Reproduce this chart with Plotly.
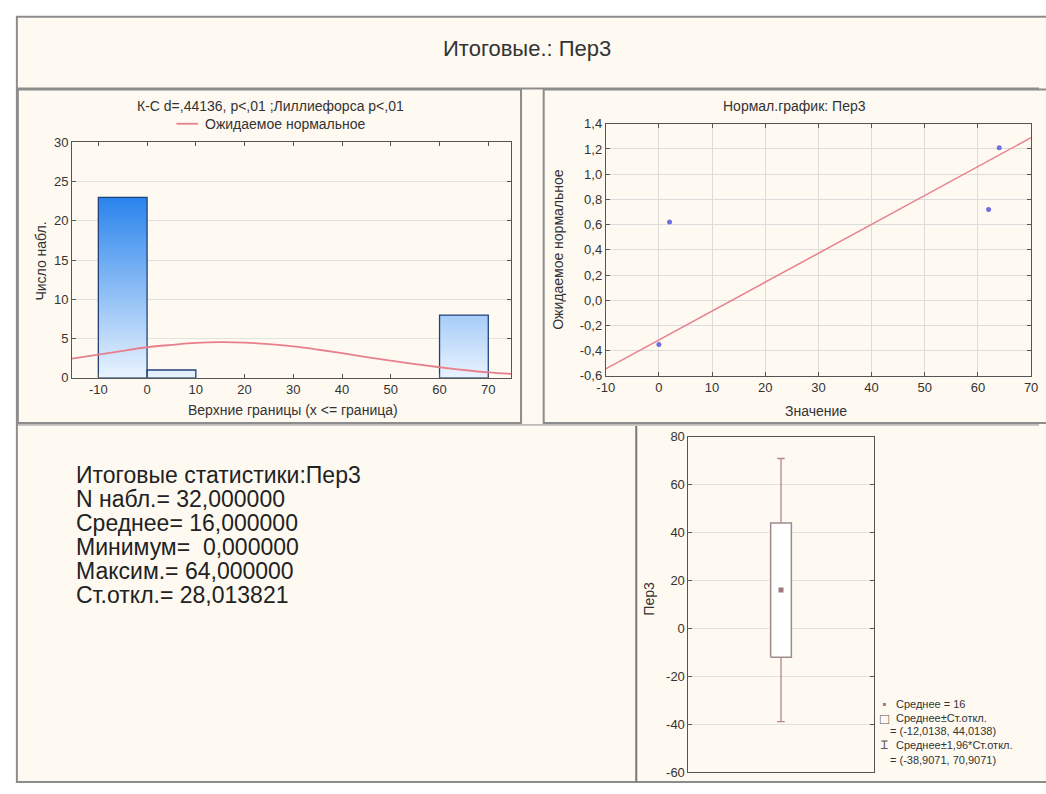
import plotly.graph_objects as go

W, H = 1046, 794


def px(x):
    return x / W


def py(y):
    return 1 - y / H


# ---------------- data ----------------
main_title = "Итоговые.: Пер3"

# histogram (upper bin bounds, counts)
bin_upper = [0, 10, 20, 30, 40, 50, 60, 70]
bin_counts = [23, 1, 0, 0, 0, 0, 0, 8]
bin_width = 10
hist_xticks = [-10, 0, 10, 20, 30, 40, 50, 60, 70]
hist_yticks = [0, 5, 10, 15, 20, 25, 30]
hist_header = "К-С d=,44136, p<,01 ;Лиллиефорса p<,01"
hist_legend = "Ожидаемое нормальное"
hist_xtitle = "Верхние границы (x <= граница)"
hist_ytitle = "Число набл."

# expected normal curve
normal_x = [-15.4, -10, -5, 0, 5, 10, 15, 20, 25, 30, 35, 40, 45, 50, 55, 60, 65, 70, 74.7]
normal_y = [2.45, 2.95, 3.45, 3.9, 4.2, 4.45, 4.55, 4.5, 4.3, 4.0, 3.6, 3.15, 2.65, 2.2,
            1.75, 1.35, 1.0, 0.7, 0.5]

# normal probability plot
qq_title = "Нормал.график: Пер3"
qq_values = [0, 2, 62, 64]
qq_expected = [-0.35, 0.62, 0.72, 1.21]
qq_line_x = [-10, 70]
qq_line_y = [-0.545, 1.29]
qq_xtitle = "Значение"
qq_ytitle = "Ожидаемое нормальное"
qq_xticks = [-10, 0, 10, 20, 30, 40, 50, 60, 70]
qq_yticks = [-0.6, -0.4, -0.2, 0.0, 0.2, 0.4, 0.6, 0.8, 1.0, 1.2, 1.4]

# summary statistics text
stats_lines = [
    "Итоговые статистики:Пер3",
    "N набл.= 32,000000",
    "Среднее= 16,000000",
    "Минимум=  0,000000",
    "Максим.= 64,000000",
    "Ст.откл.= 28,013821",
]

# box plot
box_name = "Пер3"
box_mean = 16
box_sd = [-12.0138, 44.0138]
box_196 = [-38.9071, 70.9071]
box_yticks = [-60, -40, -20, 0, 20, 40, 60, 80]
box_legend = [
    ("▪", "Среднее = 16"),
    ("□", "Среднее±Ст.откл."),
    ("", "= (-12,0138, 44,0138)"),
    ("Ɪ", "Среднее±1,96*Ст.откл."),
    ("", "= (-38,9071, 70,9071)"),
]

# ---------------- style ----------------
CREAM = "#FEFAF2"
BORDER = "#8C8C8C"
TXT = "#333333"
FONT = "Liberation Sans, Arial, DejaVu Sans"
RED = "#E8808C"
BOXC = "#A08A8E"
LBL = 14
TICK = 13


def int_text(vals):
    return [str(v) for v in vals]


def dec_text(vals):
    return [f"{v:.1f}".replace(".", ",") for v in vals]


fig = go.Figure()

# histogram bars as gradient-filled polygons built from the bins
hx, hy = [], []
for u, c in zip(bin_upper, bin_counts):
    if c <= 0:
        continue
    lo = u - bin_width
    hx += [lo, lo, u, u, lo, None]
    hy += [0, c, c, 0, 0, None]
fig.add_trace(go.Scatter(
    x=hx, y=hy, mode="lines", fill="toself",
    fillgradient=dict(type="vertical", start=0, stop=max(bin_counts),
                      colorscale=[[0, "#EEF6FF"], [1, "#2A84EC"]]),
    line=dict(color="#23407A", width=1.3),
    xaxis="x", yaxis="y", showlegend=False, hoverinfo="skip"))
fig.add_trace(go.Scatter(
    x=normal_x, y=normal_y, mode="lines", line=dict(color=RED, width=1.8, shape="spline"),
    xaxis="x", yaxis="y", showlegend=False))

# normal probability plot
fig.add_trace(go.Scatter(
    x=qq_line_x, y=qq_line_y, mode="lines", line=dict(color=RED, width=1.5),
    xaxis="x2", yaxis="y2", showlegend=False))
fig.add_trace(go.Scatter(
    x=qq_values, y=qq_expected, mode="markers",
    marker=dict(color="#7070E0", size=5, symbol="circle"),
    xaxis="x2", yaxis="y2", showlegend=False))

# box plot (mean, mean±sd box, mean±1.96sd whiskers)
bc, bw, cw = 0.5, 0.056, 0.02
fig.add_trace(go.Scatter(
    x=[bc, bc, None, bc - cw, bc + cw, None, bc, bc, None, bc - cw, bc + cw],
    y=[box_sd[1], box_196[1], None, box_196[1], box_196[1], None,
       box_sd[0], box_196[0], None, box_196[0], box_196[0]],
    mode="lines", line=dict(color="#B8828E", width=1.3),
    xaxis="x3", yaxis="y3", showlegend=False))
fig.add_trace(go.Scatter(
    x=[bc - bw, bc + bw, bc + bw, bc - bw, bc - bw],
    y=[box_sd[0], box_sd[0], box_sd[1], box_sd[1], box_sd[0]],
    mode="lines", fill="toself", fillcolor="#FFFFFF",
    line=dict(color=BOXC, width=1.5),
    xaxis="x3", yaxis="y3", showlegend=False))
fig.add_trace(go.Scatter(
    x=[bc], y=[box_mean], mode="markers",
    marker=dict(color="#A07880", size=5, symbol="square"),
    xaxis="x3", yaxis="y3", showlegend=False))

axis_common = dict(showline=True, linecolor="#555555", linewidth=1, mirror="ticks",
                   ticks="inside", ticklen=4, tickcolor="#555555",
                   tickfont=dict(family=FONT, size=TICK, color=TXT), zeroline=False)

fig.update_layout(
    width=W, height=H, margin=dict(l=0, r=0, t=0, b=0),
    paper_bgcolor="#FFFFFF", plot_bgcolor="#FFFFFF",
    font=dict(family=FONT, color=TXT),
    xaxis=dict(domain=[px(64), px(510)], range=[-15.4, 74.7], tickvals=hist_xticks,
               ticktext=int_text(hist_xticks), showgrid=False, anchor="y", **axis_common),
    yaxis=dict(domain=[py(378), py(138)], range=[0, 30], tickvals=hist_yticks,
               ticktext=int_text(hist_yticks), showgrid=True,
               gridcolor="#E2E2E2", anchor="x", **axis_common),
    xaxis2=dict(domain=[px(606), px(1038)], range=[-10, 70], tickvals=qq_xticks,
                ticktext=int_text(qq_xticks), showgrid=True,
                gridcolor="#DCDCDC", anchor="y2", **axis_common),
    yaxis2=dict(domain=[py(376), py(119)], range=[-0.6, 1.4], tickvals=qq_yticks,
                ticktext=dec_text(qq_yticks), showgrid=True, gridcolor="#DCDCDC",
                anchor="x2", **axis_common),
    xaxis3=dict(domain=[px(690), px(878)], range=[0, 1], showticklabels=False, ticks="",
                showgrid=False, showline=True, linecolor="#555555", mirror=True, zeroline=False,
                anchor="y3"),
    yaxis3=dict(domain=[py(780), py(438)], range=[-60, 80], tickvals=box_yticks,
                ticktext=int_text(box_yticks), showgrid=True,
                gridcolor="#E2E2E2", anchor="x3", **axis_common),
)

shapes = []
# outer cream frame
shapes.append(dict(type="rect", xref="paper", yref="paper", x0=px(8), x1=px(1056), y0=py(790), y1=py(10),
                   fillcolor=CREAM, line=dict(color=BORDER, width=2), layer="below"))
# title panel separator
shapes.append(dict(type="line", xref="paper", yref="paper", x0=px(8), x1=px(1046), y0=py(83), y1=py(83),
                   line=dict(color=BORDER, width=2)))
# histogram panel
shapes.append(dict(type="rect", xref="paper", yref="paper", x0=px(9), x1=px(520), y0=py(424), y1=py(84),
                   line=dict(color=BORDER, width=2)))
# normal plot panel
shapes.append(dict(type="rect", xref="paper", yref="paper", x0=px(543), x1=px(1056), y0=py(424), y1=py(84),
                   line=dict(color=BORDER, width=2)))
# bottom separator and box panel border
shapes.append(dict(type="line", xref="paper", yref="paper", x0=px(8), x1=px(1046), y0=py(426), y1=py(426),
                   line=dict(color=BORDER, width=1)))
shapes.append(dict(type="line", xref="paper", yref="paper", x0=px(637), x1=px(637), y0=py(790), y1=py(427),
                   line=dict(color="#777777", width=2)))
# histogram legend line sample
shapes.append(dict(type="line", xref="paper", yref="paper", x0=px(170), x1=px(192), y0=py(119), y1=py(119),
                   line=dict(color=RED, width=1.8)))
fig.update_layout(shapes=shapes)

ann = []


def text(x, y, s, size, xanchor="center", angle=0, color=TXT):
    ann.append(dict(x=px(x), y=py(y), xref="paper", yref="paper", text=s, showarrow=False,
                    xanchor=xanchor, yanchor="middle", textangle=angle,
                    font=dict(family=FONT, size=size, color=color)))


text(526, 42, main_title, 22)
text(266, 101, hist_header, LBL)
text(197, 119, hist_legend, LBL, xanchor="left")
text(288, 411, hist_xtitle, LBL)
text(33, 259, hist_ytitle, LBL, angle=-90)

text(798, 101, qq_title, LBL)
text(820, 412, qq_xtitle, LBL)
text(558, 247, qq_ytitle, LBL, angle=-90)

text(650, 603, box_name, LBL, angle=-90)

for i, s in enumerate(stats_lines):
    text(66, 477 + i * 24.4, s, 23, xanchor="left", color="#222222")

leg_y = [710, 725, 738, 752, 767]
for (sym, s), yy in zip(box_legend, leg_y):
    if sym:
        text(889, yy, sym, 15 if sym == "□" else 12,
             color="#555555" if sym != "▪" else "#A07880")
        text(899, yy, s, 11, xanchor="left")
    else:
        text(893, yy, s, 11, xanchor="left")

fig.update_layout(annotations=ann)

fig.write_html("out.html")
